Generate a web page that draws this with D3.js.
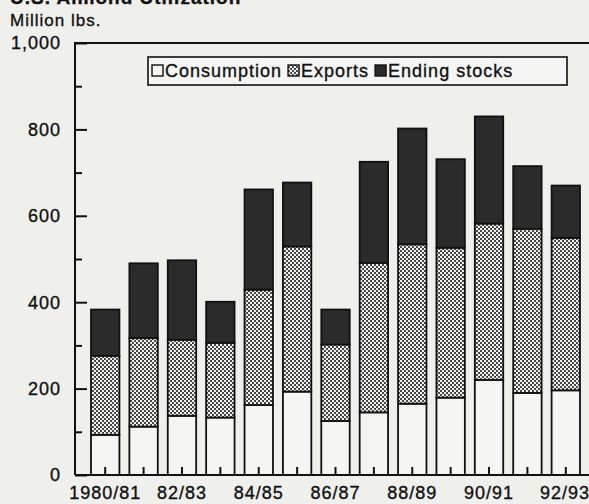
<!DOCTYPE html>
<html>
<head>
<meta charset="utf-8">
<title>U.S. Almond Utilization</title>
<script src="https://d3js.org/d3.v7.min.js"></script>
<style>
  body { margin: 0; background: #efefec; }
  svg { display: block; }
  text { font-family: "Liberation Sans", Arial, sans-serif; fill: #111;
         stroke: #111; stroke-width: 0.35px; letter-spacing: 1px; }
</style>
</head>
<body>
<div id="chart"></div>
<script>
// values, million lbs
const years = ["1980/81", "81/82", "82/83", "83/84", "84/85", "85/86", "86/87",
               "87/88", "88/89", "89/90", "90/91", "91/92", "92/93"];
const consumption = [93, 112, 137, 133, 162, 193, 125, 145, 165, 179, 220, 190, 196];
const exportsM    = [183, 205, 176, 173, 267, 336, 177, 346, 369, 347, 362, 380, 353];
const stocks      = [107, 173, 184, 95, 232, 148, 81, 234, 268, 205, 248, 145, 121];
const seriesNames = ["Consumption", "Exports", "Ending stocks"];
const yTicks = [0, 200, 400, 600, 800, 1000];
const xLabelYears = ["1980/81", "82/83", "84/85", "86/87", "88/89", "90/91", "92/93"];

const W = 589, H = 504;
const svg = d3.select("#chart").append("svg")
    .attr("width", W).attr("height", H);

// dotted fill for exports
const defs = svg.append("defs");
const pat = defs.append("pattern")
    .attr("id", "dots")
    .attr("patternUnits", "userSpaceOnUse")
    .attr("width", 4).attr("height", 4);
pat.append("rect").attr("width", 4).attr("height", 4).attr("fill", "#3c3c3c");
pat.append("circle").attr("cx", 1).attr("cy", 1).attr("r", 1.2).attr("fill", "#f4f4f2");
pat.append("circle").attr("cx", 3).attr("cy", 3).attr("r", 1.2).attr("fill", "#f4f4f2");

const fills = ["#f5f5f3", "url(#dots)", "#2b2b2b"];

const table = years.map((yr, i) => ({
    year: yr, Consumption: consumption[i], Exports: exportsM[i], "Ending stocks": stocks[i]
}));
const stacked = d3.stack().keys(seriesNames)(table);

const mLeft = 75, mTop = 43, mBottom = 475;
const x = d3.scaleBand().domain(years).range([mLeft, 596])
    .paddingInner(0.26).paddingOuter(0.417);
const y = d3.scaleLinear().domain([0, 1000]).range([mBottom, mTop]);

// title block (cut off at the top in the original)
svg.append("text").attr("x", 10).attr("y", 4)
    .attr("font-size", 19).attr("font-weight", "bold")
    .text("U.S. Almond Utilization");
svg.append("text").attr("x", 10).attr("y", 26)
    .attr("font-size", 17)
    .text("Million lbs.");

// frame
svg.append("path")
    .attr("d", `M${mLeft},${mBottom}V${mTop}H${W + 5}`)
    .attr("fill", "none").attr("stroke", "#111").attr("stroke-width", 2);

// bars
svg.append("g").selectAll("g")
    .data(stacked).join("g")
    .attr("fill", (d, i) => fills[i])
    .selectAll("rect")
    .data(d => d).join("rect")
    .attr("x", d => x(d.data.year))
    .attr("width", x.bandwidth())
    .attr("y", d => y(d[1]))
    .attr("height", d => y(d[0]) - y(d[1]))
    .attr("stroke", "#111").attr("stroke-width", 1.8);

// y axis, ticks point inward
const yAxis = d3.axisRight(y).tickValues(d3.range(0, 1001, 100))
    .tickSize(0).tickFormat("");
const ya = svg.append("g").attr("transform", `translate(${mLeft},0)`).call(yAxis);
ya.select(".domain").remove();
ya.selectAll(".tick line")
    .attr("x2", d => d % 200 === 0 ? 12 : 7)
    .attr("stroke", "#111").attr("stroke-width", 2);
svg.append("g").selectAll("text")
    .data(yTicks).join("text")
    .attr("x", 61).attr("y", d => y(d)).attr("dy", "0.36em")
    .attr("text-anchor", "end").attr("font-size", 18)
    .text(d => d3.format(",")(d));

// x axis
const xAxis = d3.axisTop(x).tickSize(8).tickFormat("");
const xa = svg.append("g").attr("transform", `translate(0,${mBottom})`).call(xAxis);
xa.select(".domain").remove();
xa.selectAll(".tick line").attr("stroke", "#111").attr("stroke-width", 2);
svg.append("line")
    .attr("x1", mLeft).attr("x2", W + 5).attr("y1", mBottom).attr("y2", mBottom)
    .attr("stroke", "#111").attr("stroke-width", 2);
svg.append("g").selectAll("text")
    .data(xLabelYears).join("text")
    .attr("x", d => Math.min(x(d) + x.bandwidth() / 2, W - 24)).attr("y", 499)
    .attr("text-anchor", "middle").attr("font-size", 18)
    .text(d => d);

// legend
const lg = svg.append("g");
lg.append("rect").attr("x", 148).attr("y", 57).attr("width", 419).attr("height", 28)
    .attr("fill", "#f5f5f3").attr("stroke", "#111").attr("stroke-width", 1.6);
let lx = 152;
seriesNames.forEach((name, i) => {
    lg.append("rect").attr("x", lx).attr("y", 65).attr("width", 11).attr("height", 11)
        .attr("fill", fills[i]).attr("stroke", "#111").attr("stroke-width", 1.4);
    const t = lg.append("text").attr("x", lx + 13).attr("y", 77)
        .attr("font-size", 18).text(name);
    lx += 13 + t.node().getComputedTextLength() + 6;
});
</script>
</body>
</html>
